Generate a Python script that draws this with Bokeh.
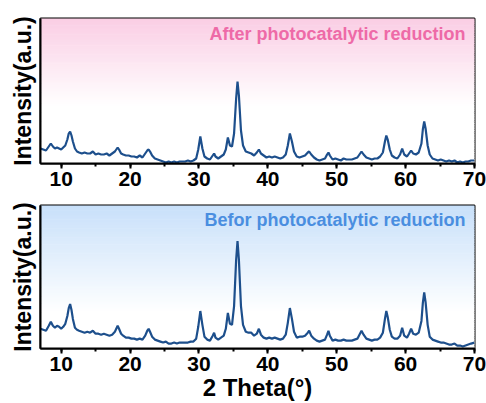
from bokeh.plotting import figure
from bokeh.layouts import column
from bokeh.models import Range1d, SingleIntervalTicker, FixedTicker, Label, ColumnDataSource
from bokeh.embed import file_html
from bokeh.resources import INLINE

# ---- data ----
two_theta = [
    7.0, 7.4, 7.8, 8.2, 8.5, 8.8, 9.1, 9.4, 9.7, 10.0,
    10.3, 10.6, 10.9, 11.1, 11.3, 11.5, 11.7, 12.0, 12.3, 12.6,
    13.0, 13.4, 13.8, 14.2, 14.6, 15.0, 15.4, 15.8, 16.2, 16.6,
    17.0, 17.4, 17.8, 18.0, 18.2, 18.4, 18.7, 19.0, 19.4, 19.8,
    20.2, 20.6, 21.0, 21.4, 21.8, 22.2, 22.5, 22.7, 22.9, 23.2,
    23.6, 24.0, 24.4, 24.8, 25.2, 25.6, 26.0, 26.4, 26.8, 27.2,
    27.6, 28.0, 28.4, 28.8, 29.2, 29.6, 29.9, 30.2, 30.5, 30.8,
    31.2, 31.6, 32.0, 32.2, 32.4, 32.8, 33.2, 33.6, 33.9, 34.2,
    34.5, 34.8, 35.1, 35.4, 35.6, 35.8, 36.1, 36.4, 36.8, 37.2,
    37.6, 38.0, 38.4, 38.7, 39.0, 39.4, 39.8, 40.2, 40.6, 41.0,
    41.4, 41.8, 42.2, 42.6, 42.9, 43.2, 43.5, 43.8, 44.2, 44.6,
    45.0, 45.4, 45.8, 46.0, 46.3, 46.7, 47.1, 47.5, 47.9, 48.3,
    48.6, 48.8, 49.0, 49.4, 49.8, 50.2, 50.6, 51.0, 51.4, 51.8,
    52.2, 52.6, 53.0, 53.3, 53.6, 53.9, 54.3, 54.7, 55.1, 55.5,
    55.9, 56.3, 56.7, 57.0, 57.2, 57.4, 57.7, 58.0, 58.4, 58.8,
    59.2, 59.5, 59.8, 60.2, 60.5, 60.8, 61.1, 61.5, 61.9, 62.3,
    62.5, 62.7, 62.9, 63.2, 63.5, 63.9, 64.3, 64.7, 65.1, 65.5,
    65.9, 66.3, 66.7, 67.1, 67.5, 67.9, 68.3, 68.7, 69.1, 69.5,
    70.0,
]

intensity_after = [
    15, 14, 13, 17, 20, 17, 15, 16, 15, 14,
    16, 18, 24, 30, 32, 28, 22, 15, 12, 11,
    10, 11, 10, 10, 12, 9, 10, 9, 9, 10,
    8, 10, 12, 14, 16, 14, 10, 9, 8, 8,
    7, 7, 6, 8, 6, 10, 13, 14, 12, 8,
    5, 4, 3, 2, 1, 2, 1, 2, 1, 2,
    2, 2, 3, 2, 3, 5, 14, 27, 15, 7,
    5, 4, 8, 10, 7, 5, 7, 9, 14, 26,
    18, 17, 30, 65, 82, 68, 33, 18, 12, 11,
    10, 8, 11, 14, 10, 8, 6, 7, 6, 7,
    6, 5, 6, 9, 18, 30, 22, 12, 7, 6,
    7, 8, 11, 12, 9, 6, 4, 3, 4, 5,
    9, 11, 8, 4, 5, 4, 3, 5, 4, 4,
    4, 5, 6, 9, 12, 9, 6, 5, 4, 5,
    5, 7, 11, 22, 28, 24, 14, 8, 6, 5,
    9, 15, 9, 7, 10, 13, 10, 9, 11, 20,
    34, 42, 35, 18, 9, 5, 4, 3, 4, 3,
    2, 3, 2, 3, 1, 2, 1, 2, 2, 3,
    3,
]

intensity_before = [
    20, 19, 18, 23, 27, 23, 21, 23, 22, 20,
    22, 25, 33, 41, 45, 39, 30, 21, 19, 18,
    17, 16, 17, 16, 18, 15, 15, 14, 15, 14,
    13, 14, 17, 20, 23, 20, 15, 13, 11, 11,
    10, 10, 9, 10, 9, 13, 18, 20, 17, 12,
    9, 8, 7, 6, 7, 5, 5, 6, 5, 6,
    6, 6, 6, 7, 7, 10, 22, 38, 24, 12,
    9, 8, 13, 16, 11, 9, 11, 13, 20, 36,
    25, 24, 43, 90, 109, 90, 43, 24, 17, 16,
    16, 13, 15, 20, 14, 11, 10, 11, 10, 11,
    10, 9, 10, 14, 26, 41, 30, 17, 11, 12,
    12, 13, 16, 18, 13, 10, 8, 7, 8, 9,
    14, 18, 13, 8, 9, 8, 8, 9, 8, 8,
    8, 9, 10, 14, 18, 14, 10, 9, 8, 9,
    9, 11, 16, 30, 38, 32, 19, 12, 10, 10,
    13, 21, 13, 11, 15, 20, 15, 14, 16, 28,
    46, 57, 47, 24, 12, 9, 8, 7, 6, 6,
    5, 4, 4, 5, 3, 3, 2, 3, 4, 5,
    6,
]

x_ticks_major = 10
panel_titles = ["After photocatalytic reduction", "Befor photocatalytic reduction"]

FONT = "Liberation Sans"
LINE_COLOR = "#1d4f8c"
X_MIN, X_MAX = 7, 70
Y_MAX = 145


def gradient_background(p, top_rgb, fade_frac):
    # vertical gradient from top_rgb (at top) to white (at fade_frac of height from top)
    n = 80
    h = Y_MAX / n
    bottoms, tops, colors = [], [], []
    for i in range(n):
        b = i * h
        t = b + h
        mid = (b + t) / 2
        frac_from_top = (Y_MAX - mid) / Y_MAX
        w = max(0.0, 1.0 - frac_from_top / fade_frac)
        r = round(255 + (top_rgb[0] - 255) * w)
        g = round(255 + (top_rgb[1] - 255) * w)
        bb = round(255 + (top_rgb[2] - 255) * w)
        bottoms.append(b)
        tops.append(t + h * 0.3)
        colors.append("#%02x%02x%02x" % (r, g, bb))
    src = ColumnDataSource(dict(bottom=bottoms, top=tops, color=colors))
    p.quad(left=X_MIN - 1, right=X_MAX + 1, bottom="bottom", top="top",
           fill_color="color", line_color=None, source=src)


def make_panel(y, title, title_color, bg_rgb, fade, height, border_top, border_bottom, xlabel):
    p = figure(width=486, height=height, output_backend="svg", toolbar_location=None,
               x_range=Range1d(X_MIN, X_MAX), y_range=Range1d(0, Y_MAX),
               min_border_left=40, min_border_right=12,
               min_border_top=border_top, min_border_bottom=border_bottom)
    p.background_fill_color = "white"
    p.border_fill_color = "white"
    p.outline_line_color = "black"
    p.outline_line_width = 2
    p.grid.visible = False

    gradient_background(p, bg_rgb, fade)
    p.line(two_theta, y, line_color=LINE_COLOR, line_width=2.2)

    p.add_layout(Label(x=68.7, y=130, text=title, text_align="right", text_baseline="middle",
                       text_font=FONT, text_font_style="bold", text_font_size="18px",
                       text_color=title_color))

    xa = p.xaxis[0]
    xa.ticker = SingleIntervalTicker(interval=x_ticks_major, num_minor_ticks=2)
    xa.axis_line_color = "black"
    xa.axis_line_width = 2
    xa.major_tick_line_width = 2
    xa.minor_tick_line_width = 2
    xa.major_tick_out = 5
    xa.major_tick_in = 0
    xa.minor_tick_out = 3
    xa.minor_tick_in = 0
    xa.major_label_text_font = FONT
    xa.major_label_text_font_style = "bold"
    xa.major_label_text_font_size = "21px"
    xa.major_label_text_color = "black"
    xa.major_label_standoff = 3
    if xlabel:
        xa.axis_label = xlabel
        xa.axis_label_text_font = FONT
        xa.axis_label_text_font_style = "bold"
        xa.axis_label_text_font_size = "24px"
        xa.axis_label_text_color = "black"
        xa.axis_label_standoff = 0

    ya = p.yaxis[0]
    ya.ticker = FixedTicker(ticks=[])
    ya.axis_line_color = "black"
    ya.axis_line_width = 2
    ya.axis_label = "Intensity(a.u.)"
    ya.axis_label_text_font = FONT
    ya.axis_label_text_font_style = "bold"
    ya.axis_label_text_font_size = "23px"
    ya.axis_label_text_color = "black"
    ya.axis_label_standoff = 5
    return p


p1 = make_panel(intensity_after, panel_titles[0], "#ee6aa7", (250, 205, 228), 0.6,
                height=196, border_top=18, border_bottom=33, xlabel=None)
p2 = make_panel(intensity_before, panel_titles[1], "#4a8ee0", (200, 224, 250), 0.75,
                height=207, border_top=9, border_bottom=55, xlabel="2 Theta(°)")

layout = column(p1, p2, spacing=0)
open("out.html", "w").write(file_html(layout, INLINE))
